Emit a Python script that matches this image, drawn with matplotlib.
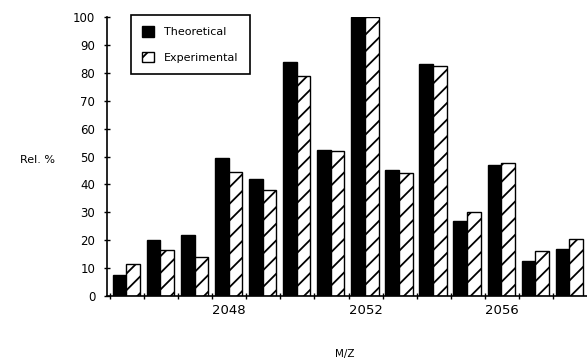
import numpy as np
import matplotlib
matplotlib.use('Agg')
import matplotlib.pyplot as plt

## Data ##
mz = [2045, 2046, 2047, 2048, 2049, 2050, 2051, 2052, 2053, 2054, 2055, 2056, 2057, 2058]
theoretical = [7.5, 20, 22, 49.5, 42, 84, 52.5, 100, 45, 83, 27, 47, 12.5, 17]
experimental = [11.5, 16.5, 14, 44.5, 38, 79, 52, 100, 44, 82.5, 30, 47.5, 16, 20.5]
xtick_labels = ['2048', '2052', '2056']

plt.rcParams['hatch.linewidth'] = 1.3

fig = plt.figure(figsize=(5.87, 3.6), dpi=100)
ax = fig.add_axes([107/587, 1 - 296/360, 1 - 107/587, (296 - 17)/360])

x = np.array(mz)
width = 0.4
ax.bar(x - 0.22, theoretical, width, color='black', edgecolor='black', linewidth=1,
       label='Theoretical')
ax.bar(x + 0.18, experimental, width, color='white', edgecolor='black', linewidth=1,
       hatch='//', label='Experimental')

ax.set_xlim(2044.41, 2058.5)
ax.set_ylim(0, 100)

# Labels at group centres, small ticks at group boundaries
ax.set_xticks([2048, 2052, 2056])
ax.set_xticklabels(xtick_labels)
ax.set_xticks(np.arange(2044.5, 2058.4, 1), minor=True)
ax.tick_params(axis='x', which='major', length=0, pad=6, labelsize=9.5)
ax.tick_params(axis='x', which='minor', length=5, direction='inout', width=1)
ax.set_yticks(np.arange(0, 101, 10))
ax.tick_params(axis='y', length=5, direction='inout', width=1, labelsize=8.5, pad=6)

for side in ['top', 'right']:
    ax.spines[side].set_visible(False)
for side in ['left', 'bottom']:
    ax.spines[side].set_linewidth(1.2)

fig.text(38/587, 1 - 160/360, 'Rel. %', fontsize=8, ha='center', va='center')
fig.text(345/587, 1 - 354/360, 'M/Z', fontsize=7.5, ha='center', va='center')

leg = ax.legend(loc='upper left', bbox_to_anchor=(131/587, 1 - 15/360),
                bbox_transform=fig.transFigure, fontsize=8, fancybox=False,
                framealpha=1, edgecolor='black', handlelength=1.1, handleheight=1.1,
                borderpad=1.0, labelspacing=1.3, handletextpad=0.9, borderaxespad=0)
leg.get_frame().set_linewidth(1.2)

fig.savefig('out.png', dpi=100)
